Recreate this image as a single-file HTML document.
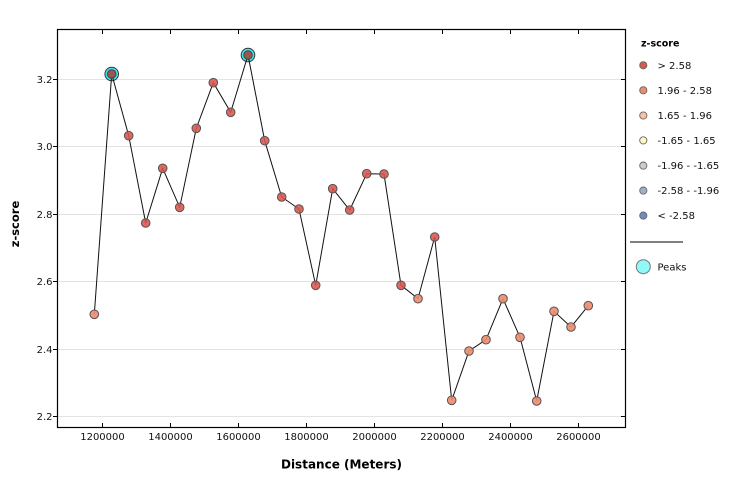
<!DOCTYPE html>
<html>
<head>
<meta charset="utf-8">
<style>
  html, body { margin:0; padding:0; background:#fff; }
  svg { display:block; font-family:"DejaVu Sans","Liberation Sans",sans-serif; }
</style>
</head>
<body>
<svg width="742" height="489" viewBox="0 0 742 489" xmlns="http://www.w3.org/2000/svg">
  <rect x="0" y="0" width="742" height="489" fill="#ffffff"/>

  <!-- gridlines -->
  <g stroke="#e3e3e3" stroke-width="1">
    <line x1="58" y1="79.5" x2="625" y2="79.5"/>
    <line x1="58" y1="146.5" x2="625" y2="146.5"/>
    <line x1="58" y1="214.5" x2="625" y2="214.5"/>
    <line x1="58" y1="281.5" x2="625" y2="281.5"/>
    <line x1="58" y1="349.5" x2="625" y2="349.5"/>
    <line x1="58" y1="416.5" x2="625" y2="416.5"/>
  </g>

  <!-- frame -->
  <rect x="57.5" y="29.5" width="568" height="398" fill="none" stroke="#000" stroke-width="1.2"/>

  <!-- y ticks -->
  <g stroke="#000" stroke-width="1">
    <line x1="53" y1="79.5" x2="57.5" y2="79.5"/>
    <line x1="53" y1="146.5" x2="57.5" y2="146.5"/>
    <line x1="53" y1="214.5" x2="57.5" y2="214.5"/>
    <line x1="53" y1="281.5" x2="57.5" y2="281.5"/>
    <line x1="53" y1="349.5" x2="57.5" y2="349.5"/>
    <line x1="53" y1="416.5" x2="57.5" y2="416.5"/>
    <line x1="621" y1="79.5" x2="625.5" y2="79.5"/>
    <line x1="621" y1="146.5" x2="625.5" y2="146.5"/>
    <line x1="621" y1="214.5" x2="625.5" y2="214.5"/>
    <line x1="621" y1="281.5" x2="625.5" y2="281.5"/>
    <line x1="621" y1="349.5" x2="625.5" y2="349.5"/>
    <line x1="621" y1="416.5" x2="625.5" y2="416.5"/>
  </g>
  <!-- x ticks -->
  <g stroke="#000" stroke-width="1">
    <line x1="102.5" y1="423" x2="102.5" y2="427.5"/>
    <line x1="170.5" y1="423" x2="170.5" y2="427.5"/>
    <line x1="238.5" y1="423" x2="238.5" y2="427.5"/>
    <line x1="306.5" y1="423" x2="306.5" y2="427.5"/>
    <line x1="374.5" y1="423" x2="374.5" y2="427.5"/>
    <line x1="442.5" y1="423" x2="442.5" y2="427.5"/>
    <line x1="510.5" y1="423" x2="510.5" y2="427.5"/>
    <line x1="578.5" y1="423" x2="578.5" y2="427.5"/>
    <line x1="102.5" y1="29.5" x2="102.5" y2="34"/>
    <line x1="170.5" y1="29.5" x2="170.5" y2="34"/>
    <line x1="238.5" y1="29.5" x2="238.5" y2="34"/>
    <line x1="306.5" y1="29.5" x2="306.5" y2="34"/>
    <line x1="374.5" y1="29.5" x2="374.5" y2="34"/>
    <line x1="442.5" y1="29.5" x2="442.5" y2="34"/>
    <line x1="510.5" y1="29.5" x2="510.5" y2="34"/>
    <line x1="578.5" y1="29.5" x2="578.5" y2="34"/>
  </g>

  <!-- y tick labels -->
  <g font-size="10" fill="#111" text-anchor="end">
    <text x="52.5" y="83">3.2</text>
    <text x="52.5" y="150">3.0</text>
    <text x="52.5" y="218">2.8</text>
    <text x="52.5" y="285">2.6</text>
    <text x="52.5" y="353">2.4</text>
    <text x="52.5" y="420">2.2</text>
  </g>
  <!-- x tick labels -->
  <g font-size="10" fill="#111" text-anchor="middle">
    <text x="102.5" y="440">1200000</text>
    <text x="170.5" y="440">1400000</text>
    <text x="238.5" y="440">1600000</text>
    <text x="306.5" y="440">1800000</text>
    <text x="374.5" y="440">2000000</text>
    <text x="442.5" y="440">2200000</text>
    <text x="510.5" y="440">2400000</text>
    <text x="578.5" y="440">2600000</text>
  </g>

  <!-- axis titles -->
  <text x="341.5" y="468.5" font-size="12" font-weight="bold" text-anchor="middle" fill="#000">Distance (Meters)</text>
  <text transform="translate(19,224) rotate(-90)" font-size="11.5" font-weight="bold" text-anchor="middle" fill="#000">z-score</text>

  <!-- peak rings -->
  <circle cx="111.7" cy="74" r="6.8" fill="#3ee8ee" stroke="#333" stroke-width="1"/>
  <circle cx="248" cy="55" r="6.8" fill="#3ee8ee" stroke="#333" stroke-width="1"/>

  <!-- line -->
  <polyline fill="none" stroke="#111" stroke-width="1"
    points="94.3,314.3 111.7,74 128.7,135.7 145.7,223 162.7,168.3 179.7,207.3 196.3,128.3 213.3,82.7 230.7,112.3 248,55 264.7,140.7 281.7,197 299,209 315.7,285.3 332.7,188.7 349.7,210 366.7,173.7 384,174 401,285.3 418,298.7 434.7,237 451.7,400.3 469,351 486,339.7 503,298.7 520,337.3 536.7,401 554,311.3 571,327 588.3,305.7"/>

  <!-- red points -->
  <g fill="#d9544c" fill-opacity="0.88" stroke="#555" stroke-width="1">
    <circle cx="128.7" cy="135.7" r="4.3"/>
    <circle cx="145.7" cy="223" r="4.3"/>
    <circle cx="162.7" cy="168.3" r="4.3"/>
    <circle cx="179.7" cy="207.3" r="4.3"/>
    <circle cx="196.3" cy="128.3" r="4.3"/>
    <circle cx="213.3" cy="82.7" r="4.3"/>
    <circle cx="230.7" cy="112.3" r="4.3"/>
    <circle cx="264.7" cy="140.7" r="4.3"/>
    <circle cx="281.7" cy="197" r="4.3"/>
    <circle cx="299" cy="209" r="4.3"/>
    <circle cx="315.7" cy="285.3" r="4.3"/>
    <circle cx="332.7" cy="188.7" r="4.3"/>
    <circle cx="349.7" cy="210" r="4.3"/>
    <circle cx="366.7" cy="173.7" r="4.3"/>
    <circle cx="384" cy="174" r="4.3"/>
    <circle cx="401" cy="285.3" r="4.3"/>
    <circle cx="434.7" cy="237" r="4.3"/>
  </g>
  <!-- peak inner points -->
  <g fill="#9a5650" stroke="#444" stroke-width="1">
    <circle cx="111.7" cy="74" r="4.3"/>
    <circle cx="248" cy="55" r="4.3"/>
  </g>
  <!-- salmon points -->
  <g fill="#ef8d70" fill-opacity="0.92" stroke="#555" stroke-width="1">
    <circle cx="94.3" cy="314.3" r="4.3"/>
    <circle cx="418" cy="298.7" r="4.3"/>
    <circle cx="451.7" cy="400.3" r="4.3"/>
    <circle cx="469" cy="351" r="4.3"/>
    <circle cx="486" cy="339.7" r="4.3"/>
    <circle cx="503" cy="298.7" r="4.3"/>
    <circle cx="520" cy="337.3" r="4.3"/>
    <circle cx="536.7" cy="401" r="4.3"/>
    <circle cx="554" cy="311.3" r="4.3"/>
    <circle cx="571" cy="327" r="4.3"/>
    <circle cx="588.3" cy="305.7" r="4.3"/>
  </g>

  <!-- legend -->
  <text x="641" y="46.5" font-size="9.5" font-weight="bold" fill="#000">z-score</text>
  <g stroke="#666" stroke-width="0.9">
    <circle cx="643.3" cy="65.3" r="3.6" fill="#d9574f"/>
    <circle cx="643.3" cy="90.3" r="3.6" fill="#ee8c6e"/>
    <circle cx="643.3" cy="115.5" r="3.6" fill="#f8c19f"/>
    <circle cx="643.3" cy="140.4" r="3.6" fill="#fcfac4"/>
    <circle cx="643.3" cy="165.6" r="3.6" fill="#c9cdc6"/>
    <circle cx="643.3" cy="190.6" r="3.6" fill="#9fb1c9"/>
    <circle cx="643.3" cy="215.6" r="3.6" fill="#6c8bbf"/>
  </g>
  <g font-size="10" fill="#111">
    <text x="657.5" y="69">&gt; 2.58</text>
    <text x="657.5" y="94">1.96 - 2.58</text>
    <text x="657.5" y="119">1.65 - 1.96</text>
    <text x="657.5" y="144">-1.65 - 1.65</text>
    <text x="657.5" y="169">-1.96 - -1.65</text>
    <text x="657.5" y="194">-2.58 - -1.96</text>
    <text x="657.5" y="219">&lt; -2.58</text>
  </g>
  <line x1="630" y1="242" x2="683" y2="242" stroke="#000" stroke-width="1"/>
  <circle cx="643.3" cy="266.7" r="7" fill="#8ff9f9" stroke="#777" stroke-width="1"/>
  <text x="657.5" y="270.5" font-size="10" fill="#111">Peaks</text>
</svg>
</body>
</html>
